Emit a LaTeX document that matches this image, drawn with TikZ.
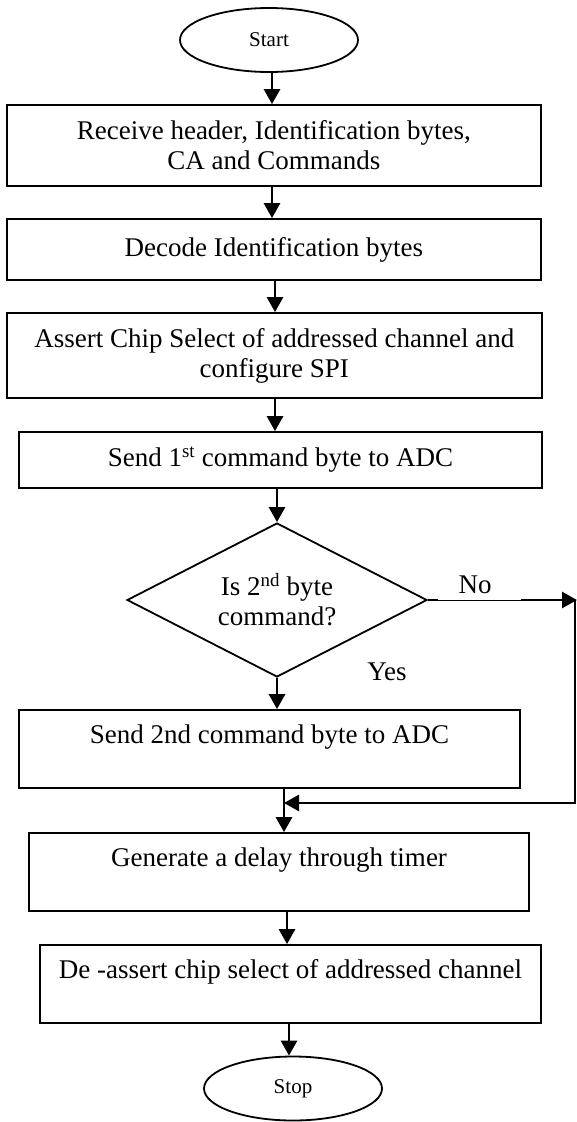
\documentclass[tikz,border=0pt]{standalone}
\usepackage{fontspec}
\setmainfont{Liberation Serif}
\usetikzlibrary{shapes.geometric,arrows.meta}
\begin{document}
\begin{tikzpicture}[x=1pt,y=-1pt,
  txt/.style={font=\fontsize{27}{30}\selectfont},
  proc/.style={draw, rectangle, line width=1.8pt, inner sep=0pt, align=center, txt},
  proctop/.style={proc, text height=19pt, text depth=31pt},
  term/.style={draw, ellipse, line width=1.8pt, inner sep=0pt,
    minimum width=178pt, minimum height=64pt, font=\fontsize{21}{24}\selectfont},
  decision/.style={draw, diamond, aspect=1.95, line width=1.8pt, inner sep=0pt, align=center, txt},
  flow/.style={line width=2.8pt, line join=miter, -{Triangle[width=16pt,length=15pt]}},
  link/.style={line width=2.8pt},
  hair/.style={line width=0.9pt}]

\useasboundingbox (0,0) rectangle (577,1122);

% steps of the flow
\node[term] (start) at (269,40) {Start};
\node[proc, minimum width=534.4pt, minimum height=81pt] (recv) at (273.8,145.5)
  {Receive header, Identification bytes,\\CA and Commands};
\node[proc, minimum width=534.4pt, minimum height=61pt] (decode) at (273.8,249.5)
  {Decode Identification bytes};
\node[proc, minimum width=535.4pt, minimum height=85pt] (assert) at (274.3,355.5)
  {Assert Chip Select of addressed channel and\\configure SPI};
\node[proc, minimum width=523pt, minimum height=56pt] (send1) at (280.5,460)
  {Send 1\textsuperscript{st} command byte to ADC};
\node[decision, minimum width=300pt, minimum height=154pt] (ask) at (277,600)
  {Is 2\textsuperscript{nd} byte\\command?};
\node[proctop, minimum width=501pt, minimum height=78pt] (send2) at (269.5,749)
  {Send 2nd command byte to ADC};
\node[proctop, minimum width=500pt, minimum height=78pt] (delay) at (279,872)
  {Generate a delay through timer};
\node[proctop, minimum width=501pt, minimum height=78pt] (deassert) at (290.5,984)
  {De -assert chip select of addressed channel};
\node[term] (stop) at (293,1088.5) {Stop};

% branch labels
\node[txt] (no) at (475,585) {No};
\node[txt] (yes) at (387,672) {Yes};

% columns the vertical connectors run along
\coordinate (c1) at (272,0);
\coordinate (c2) at (275,0);
\coordinate (c3) at (277,0);
\coordinate (c4) at (284,0);
\coordinate (c5) at (287,0);
\coordinate (c6) at (289,0);

% main sequence
\draw[flow] (start.south -| c1) -- (recv.north -| c1);
\draw[flow] (recv.south -| c1) -- (decode.north -| c1);
\draw[flow] (decode.south -| c2) -- (assert.north -| c2);
\draw[flow] (assert.south -| c2) -- (send1.north -| c2);
\draw[flow] (send1.south -| c3) -- (ask.north);
\draw[flow] (ask.south) -- (send2.north -| c3);
\draw[flow] (send2.south -| c4) -- (delay.north -| c4);
\draw[flow] (delay.south -| c5) -- (deassert.north -| c5);
\draw[flow] (deassert.south -| c6) -- (stop.north -| c6);

% "No" branch around the second command
\coordinate (n1) at (438,600);
\coordinate (n2) at (521,600);
\coordinate (ne) at (577,600);
\coordinate (nc) at (575,600);
\coordinate (se) at (575,803);
\coordinate (merge) at (c4 |- se);
\draw[link] (ask.east) -- (n1);
\draw[hair] (n1) -- (n2);
\draw[flow] (n2) -- (ne);
\draw[flow] (nc) -- (se) -- (merge);
\end{tikzpicture}
\end{document}
